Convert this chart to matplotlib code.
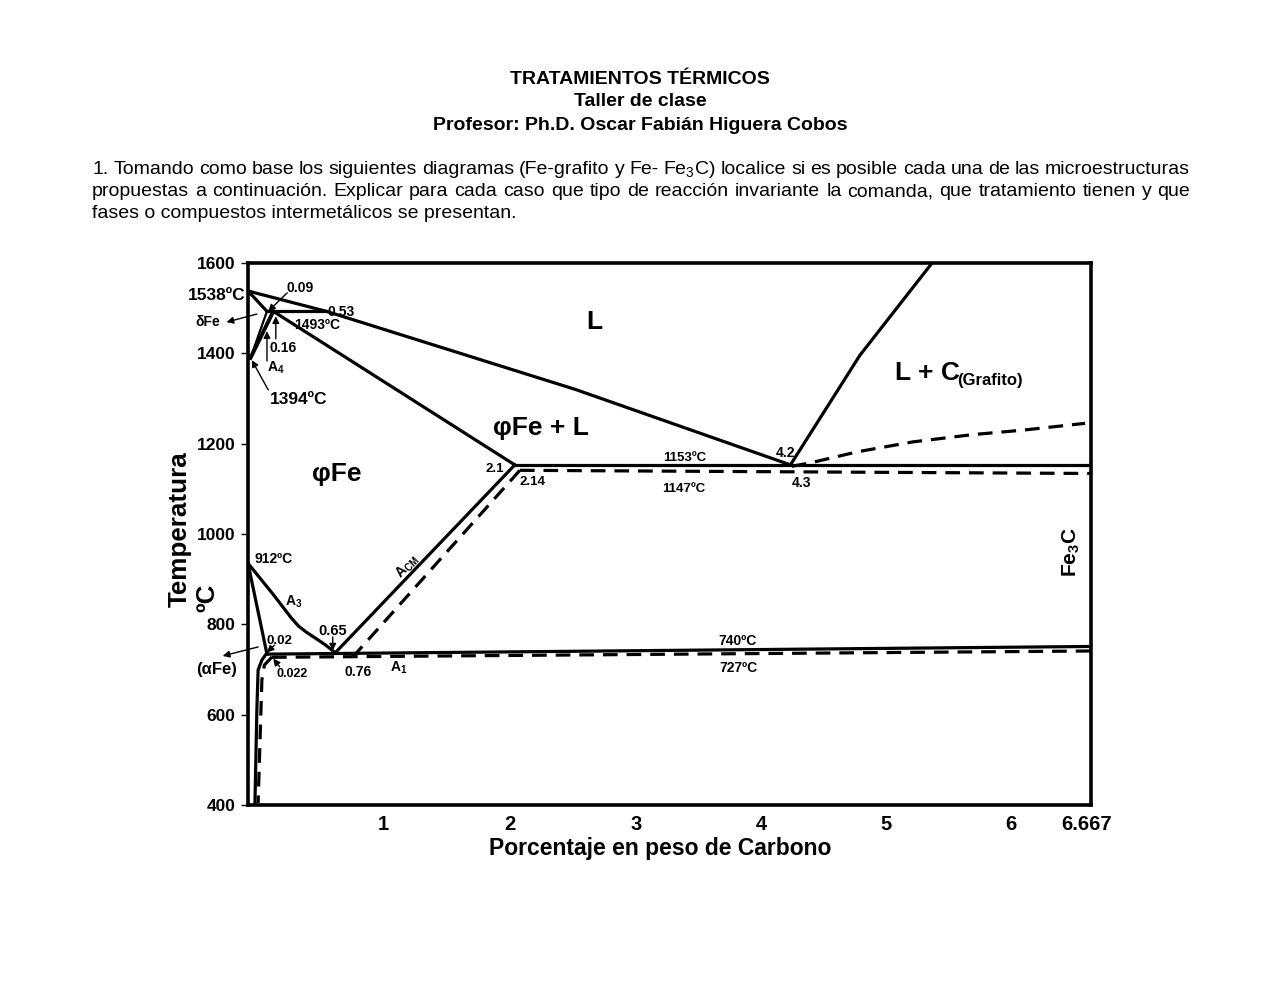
import matplotlib

matplotlib.use("Agg")
import matplotlib.pyplot as plt
import matplotlib.transforms as mtransforms

plt.rcParams.update(
    {
        "font.family": ["Liberation Sans", "DejaVu Sans"],
        "mathtext.fontset": "custom",
        "mathtext.rm": "Liberation Sans",
        "mathtext.it": "Liberation Sans:italic",
        "mathtext.bf": "Liberation Sans:bold",
        "figure.facecolor": "white",
        "savefig.facecolor": "white",
    }
)

# --- curves (wt% C, temperature in C) ---
liquidus_x = [0.0, 0.62, 2.59, 4.29]
liquidus_t = [1538, 1493, 1320, 1153]
liq_graphite_x = [4.29, 4.84, 5.41]
liq_graphite_t = [1153, 1396, 1600]
liq_cementite_x = [4.30, 4.44, 4.82, 5.26, 5.73, 6.13, 6.62]
liq_cementite_t = [1150, 1157, 1182, 1204, 1220, 1230, 1245]
delta_top_x = [0.0, 0.15]
delta_top_t = [1538, 1493]
peritectic_x = [0.15, 0.62]
peritectic_t = [1493, 1493]
delta_low_x = [0.15, 0.02]
delta_low_t = [1493, 1390]
gamma_delta_x = [0.20, 0.02]
gamma_delta_t = [1493, 1390]
solidus_x = [0.20, 2.11]
solidus_t = [1493, 1153]
eutectic_x = [2.11, 6.667]
eutectic_t = [1153, 1153]
eutectic_m_x = [2.15, 6.667]
eutectic_m_t = [1141, 1134]
acm_x = [2.11, 0.69]
acm_t = [1153, 737]
acm_m_x = [2.15, 0.83]
acm_m_t = [1141, 728]
a3_x = [0.0, 0.2, 0.34, 0.40, 0.46, 0.53, 0.61, 0.69]
a3_t = [935, 866, 815, 796, 783, 770, 755, 737]
alpha_x = [0.0, 0.15]
alpha_t = [935, 734]
eutectoid_x = [0.15, 6.667]
eutectoid_t = [734, 751]
eutectoid_m_x = [0.19, 6.667]
eutectoid_m_t = [727, 741]
solvus_x = [0.15, 0.11, 0.08, 0.07, 0.055]
solvus_t = [737, 721, 699, 610, 404]
solvus_m_x = [0.19, 0.13, 0.11, 0.10, 0.08]
solvus_m_t = [728, 710, 677, 588, 404]

y_ticks = [400, 600, 800, 1000, 1200, 1400, 1600]
x_ticks = [1, 2, 3, 4, 5, 6, 6.667]
x_tick_labels = ["1", "2", "3", "4", "5", "6", "6.667"]
x_label_shift_px = [8.5, 9, 9, 8, 6, 4, -4]

HEADER = [
    "TRATAMIENTOS TÉRMICOS",
    "Taller de clase",
    "Profesor: Ph.D. Oscar Fabián Higuera Cobos",
]
BODY = [
    "1. Tomando como base los siguientes diagramas (Fe-grafito y Fe- $\\mathrm{Fe_3C}$) localice si es posible cada una de las microestructuras",
    "propuestas a continuación. Explicar para cada caso que tipo de reacción invariante la comanda, que tratamiento tienen y que",
    "fases o compuestos intermetálicos se presentan.",
]

# (text, x, T, size, rotation)
small_labels = [
    ("0.09", 0.41, 1545, 10, 0),
    ("0.53", 0.74, 1492, 10, 0),
    ("1493ºC", 0.55, 1463, 10, 0),
    ("δFe", -0.32, 1469, 10, 0),
    ("0.16", 0.28, 1412, 10, 0),
    ("$\\mathbf{A_4}$", 0.22, 1368, 10, 0),
    ("1394ºC", 0.40, 1297, 12.5, 0),
    ("1538ºC", -0.25, 1529, 12.5, 0),
    ("2.1", 1.95, 1144, 9.5, 0),
    ("2.14", 2.25, 1115, 9.5, 0),
    ("1153ºC", 3.45, 1168, 9.5, 0),
    ("1147ºC", 3.45, 1100, 9.5, 0),
    ("4.2", 4.25, 1179, 10, 0),
    ("4.3", 4.38, 1113, 10, 0),
    ("912ºC", 0.20, 945, 10, 0),
    ("$\\mathbf{A_3}$", 0.36, 850, 10, 0),
    ("0.65", 0.67, 785, 10.5, 0),
    ("0.02", 0.25, 763, 9.5, 0),
    ("(αFe)", -0.245, 699, 12, 0),
    ("0.022", 0.35, 690, 9, 0),
    ("0.76", 0.87, 695, 10, 0),
    ("$\\mathbf{A_1}$", 1.19, 703, 10, 0),
    ("740ºC", 3.875, 763, 10, 0),
    ("727ºC", 3.875, 703, 10, 0),
    ("$\\mathbf{A_{CM}}$", 1.26, 927, 10, 46),
    ("$\\mathbf{Fe_3C}$", 6.51, 960, 15, 90),
]
big_labels = [
    ("L", 2.74, 1469),
    ("φFe + L", 2.32, 1235),
    ("φFe", 0.70, 1133),
]
# (start x, start T, end x, end T)
arrows = [
    (0.31, 1534, 0.16, 1493),
    (0.07, 1487, -0.17, 1469),
    (0.22, 1432, 0.22, 1482),
    (0.15, 1383, 0.15, 1449),
    (0.16, 1319, 0.03, 1385),
    (0.08, 750, -0.20, 730),
    (0.21, 754, 0.15, 738),
    (0.25, 706, 0.20, 724),
    (0.67, 772, 0.67, 742),
]


def justify(fig, text, x0, x1, y, size):
    words = text.split(" ")
    objs = [fig.text(0, y, w, fontsize=size, va="center", ha="left") for w in words]
    renderer = fig.canvas.get_renderer()
    widths = [o.get_window_extent(renderer).width / fig.bbox.width for o in objs]
    gap = (x1 - x0 - sum(widths)) / (len(words) - 1)
    x = x0
    for o, w in zip(objs, widths):
        o.set_x(x)
        x += w + gap


def main():
    fig = plt.figure(figsize=(12.8, 9.89), dpi=100)
    H = 989.0

    for i, line in enumerate(HEADER):
        fig.text(0.5, 1 - [80, 102, 125][i] / H, line, ha="center", va="center",
                 fontsize=14, fontweight="bold")
    x0, x1 = 92 / 1280, 1190 / 1280
    justify(fig, BODY[0], x0, x1, 1 - 170 / H, 14)
    justify(fig, BODY[1], x0, x1, 1 - 192 / H, 14)
    fig.text(x0, 1 - 214 / H, BODY[2], ha="left", va="center", fontsize=14)

    ax = fig.add_axes([248 / 1280, 1 - 805 / H, 843 / 1280, 542 / H])
    ax.set_xlim(0, 6.667)
    ax.set_ylim(400, 1600)
    for sp in ax.spines.values():
        sp.set_linewidth(2.6)

    solid = dict(color="black", linewidth=2.3, solid_joinstyle="round")
    dashed = dict(color="black", linewidth=2.3, linestyle=(0, (4.6, 2.8)))
    ax.plot(liquidus_x, liquidus_t, **solid)
    ax.plot(liq_graphite_x, liq_graphite_t, **solid)
    ax.plot(liq_cementite_x, liq_cementite_t, **dashed)
    ax.plot(delta_top_x, delta_top_t, **solid)
    ax.plot(peritectic_x, peritectic_t, **solid)
    ax.plot(delta_low_x, delta_low_t, color="black", linewidth=1.6)
    ax.plot(gamma_delta_x, gamma_delta_t, color="black", linewidth=2.8)
    ax.plot(solidus_x, solidus_t, **solid)
    ax.plot(eutectic_x, eutectic_t, **solid)
    ax.plot(eutectic_m_x, eutectic_m_t, **dashed)
    ax.plot(acm_x, acm_t, **solid)
    ax.plot(acm_m_x, acm_m_t, **dashed)
    ax.plot(a3_x, a3_t, **solid)
    ax.plot(alpha_x, alpha_t, **solid)
    ax.plot(eutectoid_x, eutectoid_t, **solid)
    ax.plot(eutectoid_m_x, eutectoid_m_t, **dashed)
    ax.plot(solvus_x, solvus_t, **solid)
    ax.plot(solvus_m_x, solvus_m_t, **dashed)

    ax.set_yticks(y_ticks)
    ax.set_yticklabels([str(v) for v in y_ticks], fontsize=12.5, fontweight="bold")
    ax.tick_params(axis="y", direction="out", length=5, width=1, pad=4)
    ax.set_xticks(x_ticks)
    ax.set_xticklabels(x_tick_labels, fontsize=14.5, fontweight="bold")
    ax.tick_params(axis="x", length=0, pad=7)
    for lbl, d in zip(ax.get_xticklabels(), x_label_shift_px):
        lbl.set_transform(lbl.get_transform() + mtransforms.ScaledTranslation(d / 100, 0, fig.dpi_scale_trans))

    fig.text(660 / 1280, 1 - 848 / H, "Porcentaje en peso de Carbono", ha="center", va="center",
             fontsize=16.5, fontweight="bold")
    fig.text(180 / 1280, 1 - 607 / H, "Temperatura", rotation=90, ha="center", va="bottom",
             fontsize=18.7, fontweight="bold")
    fig.text(207 / 1280, 1 - 612 / H, "ºC", rotation=90, ha="center", va="bottom",
             fontsize=18.7, fontweight="bold")

    for txt, x, t, size, rot in small_labels:
        ax.text(x, t, txt, fontsize=size, fontweight="bold", ha="center", va="center",
                rotation=rot, clip_on=False)
    for txt, x, t in big_labels:
        ax.text(x, t, txt, fontsize=19, fontweight="bold", ha="center", va="center")
    ax.text(5.12, 1356, "L + C", fontsize=19, fontweight="bold", ha="left", va="center")
    ax.text(5.61, 1339, "(Grafito)", fontsize=12, fontweight="bold", ha="left", va="center")

    for xs, ts, xe, te in arrows:
        ax.annotate("", xy=(xe, te), xytext=(xs, ts), annotation_clip=False,
                    arrowprops=dict(arrowstyle="-|>", color="black", lw=1.0,
                                    mutation_scale=10, shrinkA=0, shrinkB=0))

    fig.savefig("out.png", dpi=100)
    plt.close(fig)


if __name__ == "__main__":
    main()
